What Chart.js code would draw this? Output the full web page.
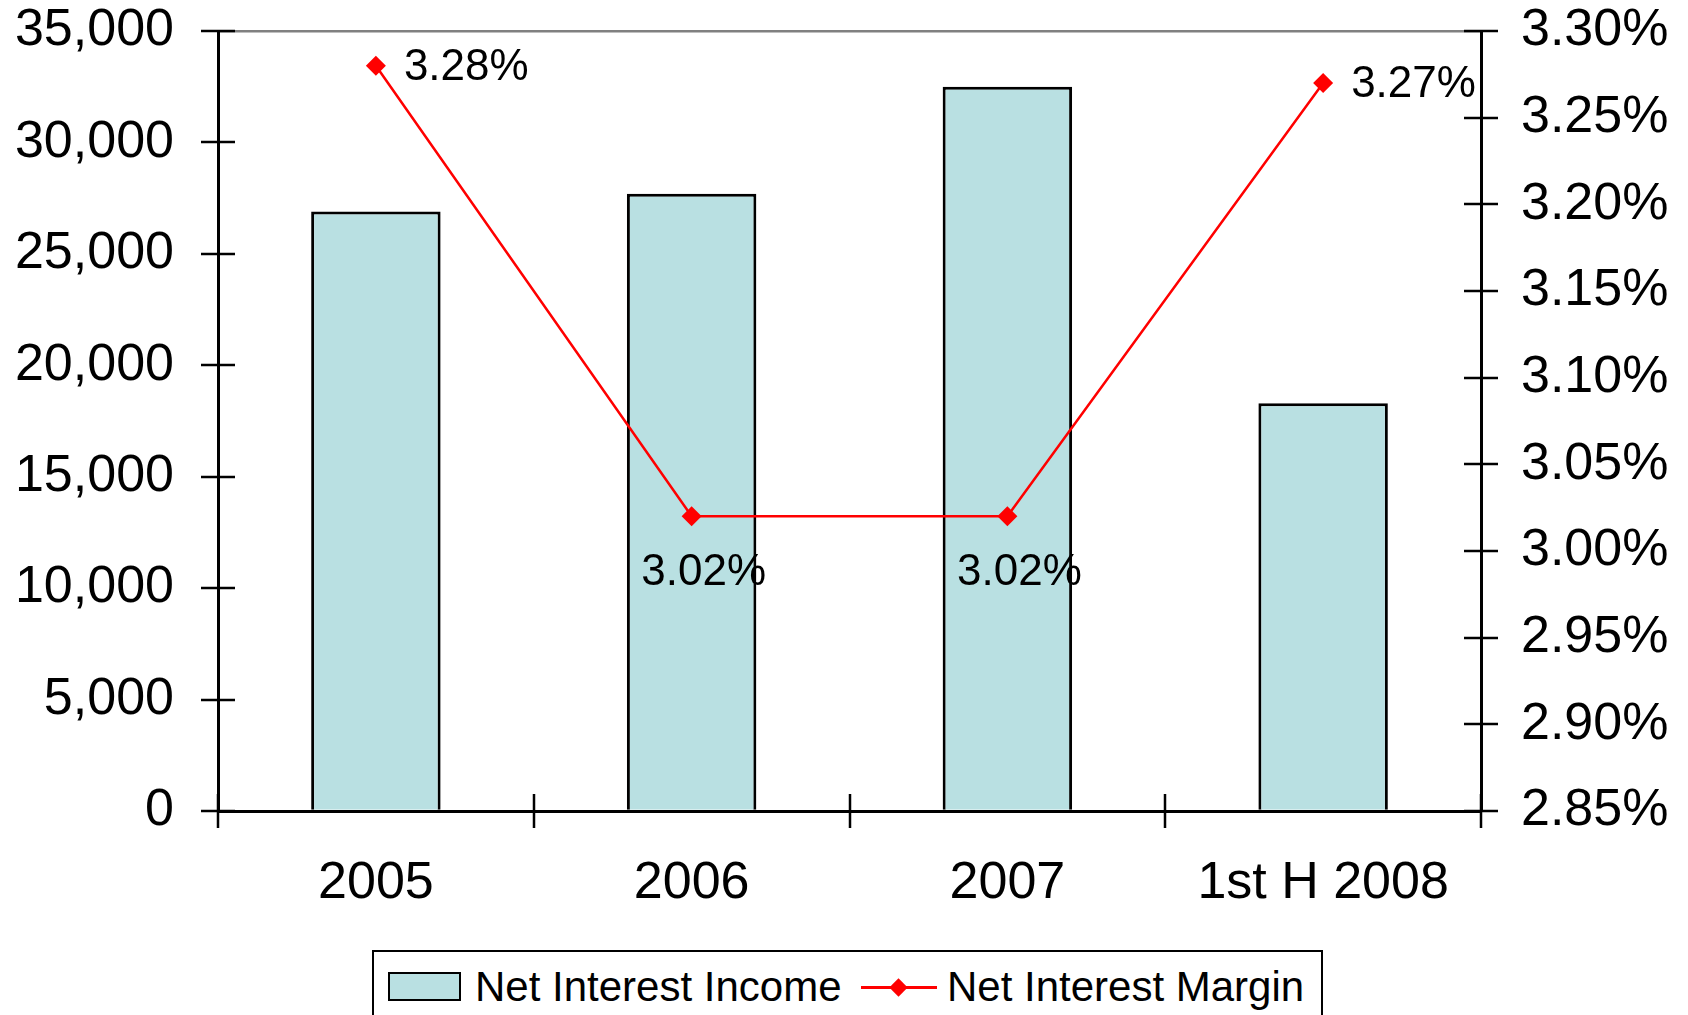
<!DOCTYPE html>
<html>
<head>
<meta charset="utf-8">
<script src="https://cdn.jsdelivr.net/npm/chart.js@4.4.1/dist/chart.umd.min.js"></script>
<style>
  html, body { margin: 0; padding: 0; background: #fff; overflow: hidden; }
  #wrap { position: relative; width: 1688px; height: 1015px; }
  #chart { position: absolute; left: 0; top: 0; }
  #legend {
    position: absolute; left: 372px; top: 950px; width: 951px; height: 100px;
    border: 2px solid #000; box-sizing: border-box; background: #fff;
    font-family: "Liberation Sans", Arial, sans-serif; font-size: 42px; color: #000;
  }
  #legend .sw { position: absolute; left: 14px; top: 20px; width: 73px; height: 29px;
    border: 2.5px solid #000; box-sizing: border-box; }
  #legend .ln { position: absolute; left: 487px; top: 34px; width: 76px; height: 3px; }
  #legend .dm { position: absolute; left: 518px; top: 29px; width: 13px; height: 13px;
    transform: rotate(45deg); }
  #legend .tx { position: absolute; top: 14px; line-height: 42px; white-space: nowrap; }
</style>
</head>
<body>
<div id="wrap">
  <canvas id="chart" width="1688" height="1015"></canvas>
  <div id="legend"></div>
</div>
<script>
// Data
const categories = ["2005", "2006", "2007", "1st H 2008"];
const netInterestIncome = [26900, 27700, 32500, 18300];
const netInterestMargin = [3.28, 3.02, 3.02, 3.27];
const incomeTicks = [0, 5000, 10000, 15000, 20000, 25000, 30000, 35000];
const marginTicks = [2.85, 2.9, 2.95, 3.0, 3.05, 3.1, 3.15, 3.2, 3.25, 3.3];
const seriesNames = ["Net Interest Income", "Net Interest Margin"];

// where each margin label sits relative to its point
const labelPlacement = ["right", "below", "below", "right"];

const FONT = "'Liberation Sans', Arial, sans-serif";
const BAR_FILL = "#b9e0e2";
const LINE_RED = "#ff0000";

Chart.defaults.font.family = FONT;
Chart.defaults.color = "#000";

// tick marks that cross the axis lines, like the original
const crossTicks = {
  id: "crossTicks",
  afterDraw(chart) {
    const c = chart.ctx;
    const len = 17;
    c.save();
    c.strokeStyle = "#000";
    c.lineWidth = 2.5;
    c.beginPath();
    const y = chart.scales.y;
    const y1 = chart.scales.y1;
    const x = chart.scales.x;
    y.ticks.forEach((t) => {
      const p = Math.round(y.getPixelForValue(t.value));
      c.moveTo(y.right - len, p);
      c.lineTo(y.right + len, p);
    });
    y1.ticks.forEach((t) => {
      const p = Math.round(y1.getPixelForValue(t.value));
      c.moveTo(y1.left - len, p);
      c.lineTo(y1.left + len, p);
    });
    for (let i = 0; i <= categories.length; i++) {
      const p = Math.round(x.getPixelForValue(i - 0.5));
      c.moveTo(p, x.top - len);
      c.lineTo(p, x.top + len);
    }
    c.stroke();
    c.restore();
  },
};

// percent labels next to the margin points
const marginLabels = {
  id: "marginLabels",
  afterDatasetsDraw(chart) {
    const c = chart.ctx;
    const meta = chart.getDatasetMeta(1);
    c.save();
    c.font = "44px " + FONT;
    c.fillStyle = "#000";
    meta.data.forEach((pt, i) => {
      const txt = netInterestMargin[i].toFixed(2) + "%";
      if (labelPlacement[i] === "right") {
        c.textAlign = "left";
        c.textBaseline = "middle";
        c.fillText(txt, pt.x + 28, pt.y + 2);
      } else {
        c.textAlign = "center";
        c.textBaseline = "middle";
        c.fillText(txt, pt.x + 12, pt.y + 57);
      }
    });
    c.restore();
  },
};

// fixed axis sizes; drop the label overhang padding so the plot starts near the top
const fixWidth = (w) => (s) => {
  s.width = w;
  s.paddingTop = 0;
  s.paddingBottom = 0;
};

new Chart(document.getElementById("chart"), {
  type: "bar",
  data: {
    labels: categories,
    datasets: [
      {
        label: seriesNames[0],
        data: netInterestIncome,
        backgroundColor: BAR_FILL,
        borderColor: "#000",
        borderWidth: 3,
        categoryPercentage: 1,
        barPercentage: 0.41,
        yAxisID: "y",
        order: 1,
      },
      {
        type: "line",
        label: seriesNames[1],
        data: netInterestMargin,
        borderColor: LINE_RED,
        backgroundColor: LINE_RED,
        borderWidth: 2.5,
        pointStyle: "rectRot",
        pointRadius: 10,
        pointBorderWidth: 0,
        tension: 0,
        yAxisID: "y1",
        order: 0,
      },
    ],
  },
  options: {
    responsive: false,
    animation: false,
    layout: { padding: { top: 31, left: 0, right: 0, bottom: 0 }, autoPadding: false },
    plugins: {
      legend: { display: false },
      tooltip: { enabled: false },
    },
    scales: {
      x: {
        offset: true,
        grid: { drawOnChartArea: false, drawTicks: false },
        border: { color: "#000", width: 3 },
        ticks: { font: { size: 52 }, color: "#000", padding: 41, maxRotation: 0 },
        afterFit: (s) => {
          s.height = 204;
          s.paddingLeft = 0;
          s.paddingRight = 0;
        },
      },
      y: {
        position: "left",
        min: 0,
        max: 35000,
        afterBuildTicks: (s) => { s.ticks = incomeTicks.map((v) => ({ value: v })); },
        grid: {
          drawTicks: false,
          lineWidth: 2.5,
          color: (ctx) => (ctx.tick && ctx.tick.value === 35000 ? "#808080" : "rgba(0,0,0,0)"),
        },
        border: { color: "#000", width: 3 },
        ticks: {
          font: { size: 52 },
          color: "#000",
          padding: 44,
          callback: (v) => Number(v).toLocaleString("en-US"),
        },
        afterFit: fixWidth(218),
      },
      y1: {
        position: "right",
        min: 2.85,
        max: 3.3,
        afterBuildTicks: (s) => { s.ticks = marginTicks.map((v) => ({ value: v })); },
        grid: { drawOnChartArea: false, drawTicks: false },
        border: { color: "#000", width: 3 },
        ticks: {
          font: { size: 52 },
          color: "#000",
          padding: 40,
          callback: (v) => Number(v).toFixed(2) + "%",
        },
        afterFit: fixWidth(207),
      },
    },
  },
  plugins: [crossTicks, marginLabels],
});

// legend drawn as html below the plot
const legend = document.getElementById("legend");
legend.innerHTML = `
  <div class="sw" style="background:${BAR_FILL}"></div>
  <span class="tx" style="left:101px">${seriesNames[0]}</span>
  <div class="ln" style="background:${LINE_RED}"></div>
  <div class="dm" style="background:${LINE_RED}"></div>
  <span class="tx" style="left:573px">${seriesNames[1]}</span>
`;
</script>
</body>
</html>
